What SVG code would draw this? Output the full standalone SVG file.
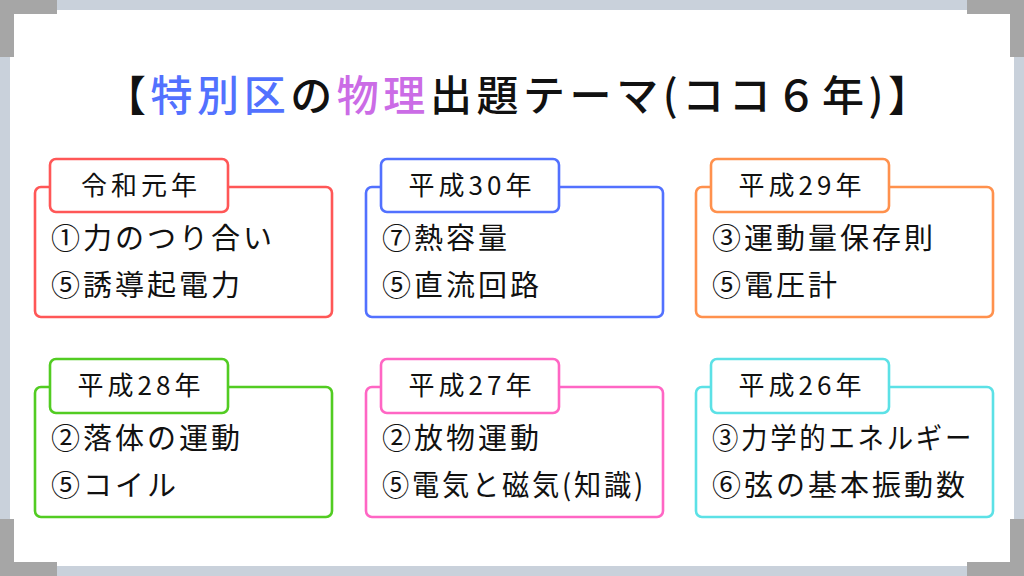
<svg xmlns="http://www.w3.org/2000/svg" width="1024" height="576" viewBox="0 0 1024 576">
  <style>
    .t { font-family: "Noto Sans CJK JP", "Noto Sans", sans-serif; fill: #111; }
    .title { font-size: 42px; font-weight: 500; }
    .tab { font-size: 26px; letter-spacing: 4px; text-anchor: middle; }
    .body { font-size: 29px; letter-spacing: 3px; }
    .frame { fill: #fff; stroke-width: 2.6; }
  </style>
  <rect x="0" y="0" width="1024" height="576" fill="#c9d1db"/>
  <rect x="10" y="10" width="1004" height="556" fill="#ffffff"/>
  <g id="corners" fill="#a6a6a6">
    <path d="M0 0H57V14H14V57H0Z"/>
    <path d="M1024 0H967V14H1010V57H1024Z"/>
    <path d="M0 576H57V562H14V519H0Z"/>
    <path d="M1024 576H967V562H1010V519H1024Z"/>
  </g>
  <g id="title">
    <text class="t title" x="104" y="111" textLength="826" lengthAdjust="spacing">【<tspan fill="#5271ff">特別区</tspan>の<tspan fill="#cb6ce6">物理</tspan>出題テーマ(ココ６年)】</text>
  </g>
  <g id="connectors"/>
  <g id="node-r1" stroke="#ff5757">
    <rect class="frame" x="35" y="187" width="297" height="130" rx="6"/>
    <rect class="frame" x="50" y="159" width="178" height="53" rx="6"/>
    <text class="t tab" x="141" y="195" stroke="none">令和元年</text>
    <text class="t body" x="51" y="249" stroke="none">①力のつり合い</text>
    <text class="t body" x="51" y="296" stroke="none">⑤誘導起電力</text>
  </g>
  <g id="node-h30" stroke="#5271ff">
    <rect class="frame" x="366" y="187" width="297" height="130" rx="6"/>
    <rect class="frame" x="381" y="159" width="178" height="53" rx="6"/>
    <text class="t tab" x="472" y="195" stroke="none">平成30年</text>
    <text class="t body" x="382" y="249" stroke="none">⑦熱容量</text>
    <text class="t body" x="382" y="296" stroke="none">⑤直流回路</text>
  </g>
  <g id="node-h29" stroke="#ff914d">
    <rect class="frame" x="696" y="187" width="297" height="130" rx="6"/>
    <rect class="frame" x="711" y="159" width="178" height="53" rx="6"/>
    <text class="t tab" x="802" y="195" stroke="none">平成29年</text>
    <text class="t body" x="712" y="249" stroke="none">③運動量保存則</text>
    <text class="t body" x="712" y="296" stroke="none">⑤電圧計</text>
  </g>
  <g id="node-h28" stroke="#52cc22">
    <rect class="frame" x="35" y="387" width="297" height="130" rx="6"/>
    <rect class="frame" x="50" y="359" width="178" height="54" rx="6"/>
    <text class="t tab" x="141" y="395" stroke="none">平成28年</text>
    <text class="t body" x="51" y="449" stroke="none">②落体の運動</text>
    <text class="t body" x="51" y="496" stroke="none">⑤コイル</text>
  </g>
  <g id="node-h27" stroke="#ff66c4">
    <rect class="frame" x="366" y="387" width="297" height="130" rx="6"/>
    <rect class="frame" x="381" y="359" width="178" height="54" rx="6"/>
    <text class="t tab" x="472" y="395" stroke="none">平成27年</text>
    <text class="t body" x="382" y="449" stroke="none">②放物運動</text>
    <text class="t body" x="382" y="496" stroke="none" textLength="264" lengthAdjust="spacingAndGlyphs">⑤電気と磁気(知識)</text>
  </g>
  <g id="node-h26" stroke="#5ce1e6">
    <rect class="frame" x="696" y="387" width="297" height="130" rx="6"/>
    <rect class="frame" x="711" y="359" width="178" height="54" rx="6"/>
    <text class="t tab" x="802" y="395" stroke="none">平成26年</text>
    <text class="t body" x="712" y="449" stroke="none" textLength="262" lengthAdjust="spacingAndGlyphs">③力学的エネルギー</text>
    <text class="t body" x="712" y="496" stroke="none">⑥弦の基本振動数</text>
  </g>
</svg>
